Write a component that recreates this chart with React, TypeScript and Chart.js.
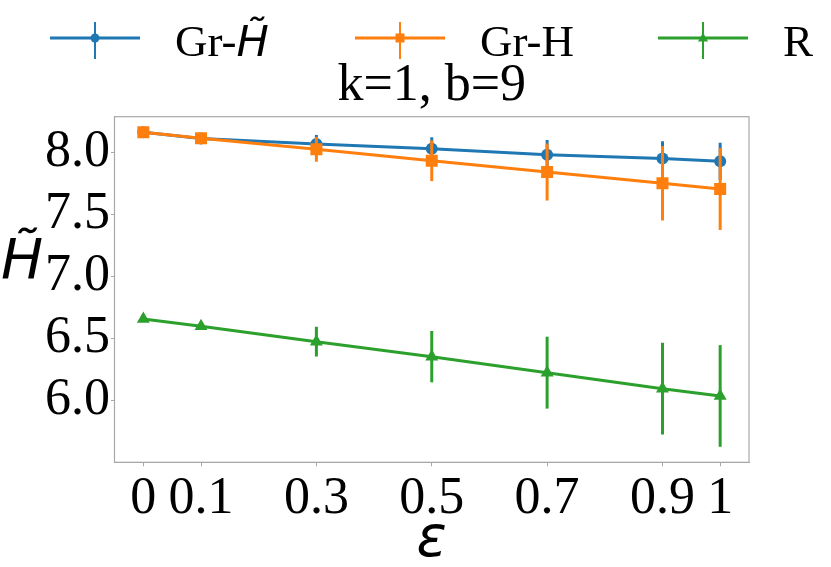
import React, { useEffect, useRef } from 'react';
import { Chart, registerables } from 'chart.js';

Chart.register(...registerables);

const epsilons = [0, 0.1, 0.3, 0.5, 0.7, 0.9, 1];
const grHtilde = [8.165, 8.115, 8.07, 8.032, 7.984, 7.952, 7.93];
const grHtildeErr = [0, 0, 0.073, 0.092, 0.118, 0.14, 0.15];
const grH = [8.165, 8.116, 8.027, 7.935, 7.844, 7.753, 7.707];
const grHErr = [0, 0, 0.1, 0.164, 0.23, 0.3, 0.33];
const randomR = [6.659, 6.6, 6.476, 6.355, 6.226, 6.097, 6.038];
const randomRErr = [0, 0, 0.12, 0.207, 0.29, 0.37, 0.41];
const xTicks = [0, 0.1, 0.3, 0.5, 0.7, 0.9, 1];
const yTicks = [6.0, 6.5, 7.0, 7.5, 8.0];
const titleText = 'k=1, b=9';

const BLUE = '#1f77b4';
const ORANGE = '#ff7f0e';
const GREEN = '#2ca02c';
const SERIF = '"Liberation Serif", "Times New Roman", serif';
const MATH = '"DejaVu Sans", sans-serif';

const errorBarPlugin = {
  id: 'errorBars',
  beforeDatasetDraw(chart: any, args: any) {
    const ds: any = chart.data.datasets[args.index];
    const errs: number[] = ds.errors || [];
    const yScale = chart.scales.y;
    const ctx = chart.ctx;
    ctx.save();
    ctx.strokeStyle = ds.borderColor;
    ctx.lineWidth = 3;
    args.meta.data.forEach((pt: any, i: number) => {
      const e = errs[i];
      if (!e) return;
      const v = ds.data[i].y;
      ctx.beginPath();
      ctx.moveTo(pt.x, yScale.getPixelForValue(v - e));
      ctx.lineTo(pt.x, yScale.getPixelForValue(v + e));
      ctx.stroke();
    });
    ctx.restore();
  },
};

const decorPlugin = {
  id: 'decor',
  afterDraw(chart: any) {
    const ctx = chart.ctx;
    const a = chart.chartArea;
    ctx.save();
    // frame
    ctx.strokeStyle = '#a8a8a8';
    ctx.lineWidth = 1.2;
    ctx.strokeRect(a.left, a.top, a.right - a.left, a.bottom - a.top);

    // title
    ctx.fillStyle = '#000';
    ctx.font = `52px ${SERIF}`;
    ctx.textAlign = 'center';
    ctx.textBaseline = 'alphabetic';
    ctx.fillText(titleText, (a.left + a.right) / 2, 100);

    // axis titles
    ctx.font = `italic 56px ${MATH}`;
    ctx.textAlign = 'center';
    ctx.textBaseline = 'alphabetic';
    ctx.fillText('H\u0303', 22, 278);
    ctx.fillText('\u03b5', (a.left + a.right) / 2, 556);

    // legend
    const items = [
      { color: BLUE, x: 50, style: 'circle', label: 'Gr-', math: 'H\u0303', tx: 175 },
      { color: ORANGE, x: 355, style: 'rect', label: 'Gr-H', math: '', tx: 480 },
      { color: GREEN, x: 658, style: 'triangle', label: 'R', math: '', tx: 783 },
    ];
    const ly = 38;
    items.forEach((it) => {
      ctx.strokeStyle = it.color;
      ctx.fillStyle = it.color;
      ctx.lineWidth = 3;
      ctx.beginPath();
      ctx.moveTo(it.x, ly);
      ctx.lineTo(it.x + 90, ly);
      ctx.stroke();
      ctx.lineWidth = 2;
      ctx.beginPath();
      ctx.moveTo(it.x + 45, ly - 16);
      ctx.lineTo(it.x + 45, ly + 21);
      ctx.stroke();
      const cx = it.x + 45;
      ctx.beginPath();
      if (it.style === 'circle') {
        ctx.arc(cx, ly, 4.5, 0, Math.PI * 2);
      } else if (it.style === 'rect') {
        ctx.rect(cx - 4.5, ly - 4.5, 9, 9);
      } else {
        ctx.moveTo(cx, ly - 5.5);
        ctx.lineTo(cx + 5, ly + 3.5);
        ctx.lineTo(cx - 5, ly + 3.5);
        ctx.closePath();
      }
      ctx.fill();
      ctx.fillStyle = '#000';
      ctx.textAlign = 'left';
      ctx.textBaseline = 'alphabetic';
      ctx.font = `45px ${SERIF}`;
      ctx.fillText(it.label, it.tx, 56);
      if (it.math) {
        const w = ctx.measureText(it.label).width;
        ctx.font = `italic 43px ${MATH}`;
        ctx.fillText(it.math, it.tx + w, 56);
      }
    });
    ctx.restore();
  },
};

export default function App() {
  const canvasRef = useRef<HTMLCanvasElement | null>(null);

  useEffect(() => {
    const canvas = canvasRef.current;
    if (!canvas) return;
    const mk = (label: string, ys: number[], errs: number[], color: string, style: string, radius: number, order: number) => ({
      label,
      data: epsilons.map((x, i) => ({ x, y: ys[i] })),
      errors: errs,
      borderColor: color,
      backgroundColor: color,
      borderWidth: 3,
      pointStyle: style,
      pointRadius: radius,
      pointHoverRadius: radius,
      pointBorderWidth: 0,
      pointBackgroundColor: color,
      tension: 0,
      fill: false,
      order,
    });
    const chart = new Chart(canvas, {
      type: 'line',
      data: {
        datasets: [
          mk('Gr-H\u0303', grHtilde, grHtildeErr, BLUE, 'circle', 6, 3),
          mk('Gr-H', grH, grHErr, ORANGE, 'rect', 8.5, 2),
          mk('R', randomR, randomRErr, GREEN, 'triangle', 7.5, 1),
        ] as any,
      },
      options: {
        responsive: false,
        animation: false,
        devicePixelRatio: 1,
        layout: { padding: { top: 116.7, right: 82, bottom: 0, left: 0 } },
        plugins: {
          legend: { display: false },
          title: { display: false },
          tooltip: { enabled: false },
        },
        scales: {
          x: {
            type: 'linear',
            min: -0.05,
            max: 1.05,
            afterBuildTicks: (s: any) => {
              s.ticks = xTicks.map((v) => ({ value: v }));
            },
            afterFit: (s: any) => {
              s.height = 567 - 462.3;
            },
            ticks: {
              autoSkip: false,
              maxRotation: 0,
              minRotation: 0,
              padding: 2,
              color: '#000',
              font: { family: SERIF, size: 52 },
              callback: (v: any) => String(v),
            },
            grid: { drawOnChartArea: false, drawTicks: true, tickLength: 4, color: '#a8a8a8' },
            border: { display: true, color: '#a8a8a8' },
          },
          y: {
            type: 'linear',
            min: 5.503,
            max: 8.29,
            afterBuildTicks: (s: any) => {
              s.ticks = yTicks.map((v) => ({ value: v }));
            },
            afterFit: (s: any) => {
              s.width = 114.5;
            },
            ticks: {
              autoSkip: false,
              padding: 1,
              color: '#000',
              font: { family: SERIF, size: 52 },
              callback: (v: any) => Number(v).toFixed(1),
            },
            grid: { drawOnChartArea: false, drawTicks: true, tickLength: 3.5, color: '#a8a8a8' },
            border: { display: true, color: '#a8a8a8' },
          },
        },
      } as any,
      plugins: [errorBarPlugin, decorPlugin],
    });
    return () => chart.destroy();
  }, []);

  return (
    <div style={{ position: 'fixed', left: 0, top: 0, width: 831, height: 567, background: '#fff' }}>
      <canvas ref={canvasRef} width={831} height={567} style={{ width: 831, height: 567, display: 'block' }} />
    </div>
  );
}
